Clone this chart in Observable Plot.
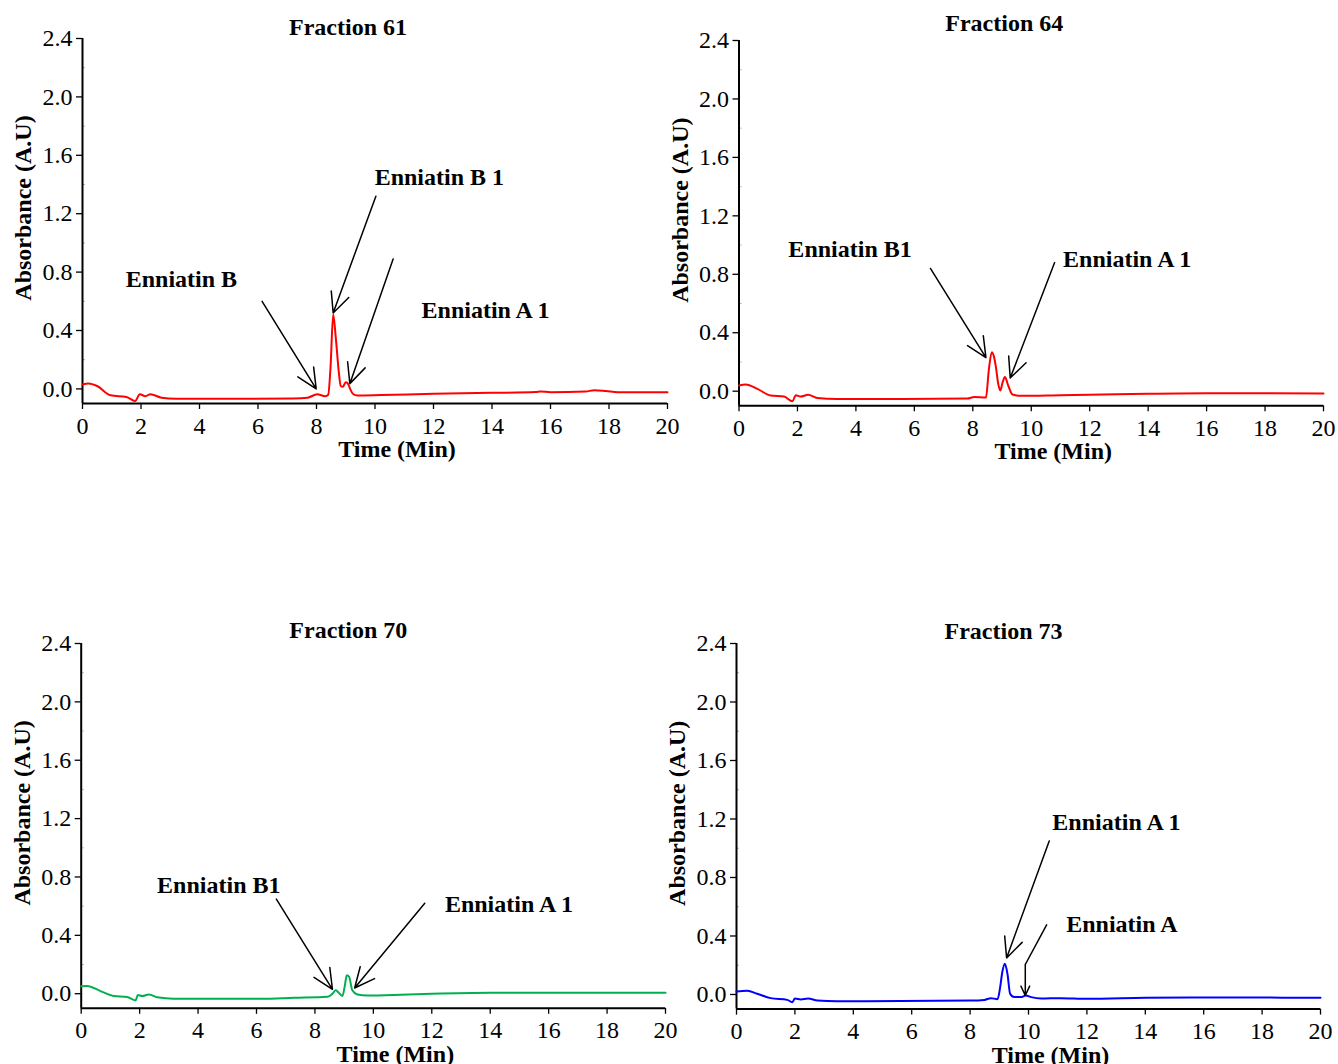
<!DOCTYPE html>
<html><head><meta charset="utf-8">
<script src="https://cdn.jsdelivr.net/npm/d3@7"></script>
<script src="https://cdn.jsdelivr.net/npm/@observablehq/plot@0.6"></script>
<style>
body{margin:0;background:#fff;}
#root{position:relative;width:1338px;height:1064px;overflow:hidden;background:#fff;}
.panel{position:absolute;}
</style></head><body><div id="root"></div>
<script>
// ---- data ----
const xTicks = [0, 2, 4, 6, 8, 10, 12, 14, 16, 18, 20];
const yTicks = [0, 0.4, 0.8, 1.2, 1.6, 2.0, 2.4];
const yMinorTicks = [0.2, 0.6, 1.0, 1.4, 1.8, 2.2];
const titles = ["Fraction 61", "Fraction 64", "Fraction 70", "Fraction 73"];
const colors = ["#ff0000", "#ff0000", "#00b050", "#0000ff"];

const time61 = [0, 0.2, 0.5, 0.96, 1.5, 1.8, 1.96, 2.15, 2.32, 2.7, 3.2, 5, 7.2, 7.7, 8.02, 8.3, 8.4, 8.48, 8.57, 8.66, 8.76, 8.83, 8.9, 9.0, 9.06, 9.15, 9.25, 9.4, 10.2, 12, 14, 15.5, 15.65, 16, 17.2, 17.5, 17.9, 18.3, 20];
const abs61  = [0.03, 0.037, 0.02, -0.044, -0.055, -0.083, -0.037, -0.05, -0.037, -0.06, -0.067, -0.068, -0.065, -0.06, -0.037, -0.05, -0.04, 0.15, 0.51, 0.35, 0.12, 0.02, 0.015, 0.045, 0.04, 0.0, -0.035, -0.045, -0.042, -0.034, -0.027, -0.022, -0.017, -0.023, -0.018, -0.009, -0.015, -0.023, -0.023];

const time64 = [0, 0.23, 0.63, 1.08, 1.54, 1.83, 1.94, 2.11, 2.36, 2.68, 3.37, 5, 7.82, 8.05, 8.45, 8.55, 8.65, 8.72, 8.79, 8.87, 8.94, 9.02, 9.1, 9.21, 9.36, 9.64, 11, 12, 14, 16, 20];
const abs64  = [0.039, 0.046, 0.016, -0.03, -0.037, -0.069, -0.028, -0.037, -0.025, -0.046, -0.053, -0.054, -0.05, -0.039, -0.044, 0.15, 0.267, 0.24, 0.166, 0.05, 0.005, 0.06, 0.097, 0.039, -0.023, -0.032, -0.028, -0.025, -0.018, -0.014, -0.015];

const time70 = [0, 0.2, 0.66, 1.12, 1.57, 1.86, 1.94, 2.09, 2.32, 2.6, 3.17, 6.15, 7.29, 8.43, 8.6, 8.71, 8.8, 8.94, 9.02, 9.09, 9.17, 9.28, 9.45, 9.8, 10.94, 12, 14, 20];
const abs70  = [0.051, 0.053, 0.018, -0.016, -0.023, -0.046, -0.009, -0.016, -0.005, -0.025, -0.035, -0.035, -0.028, -0.021, 0.0, 0.023, 0.01, -0.016, 0.05, 0.127, 0.116, 0.023, -0.005, -0.012, -0.007, 0.0, 0.007, 0.007];

const time73 = [0, 0.37, 0.71, 1.17, 1.74, 1.91, 2.0, 2.2, 2.45, 2.77, 3.45, 8.03, 8.49, 8.71, 8.94, 9.03, 9.1, 9.19, 9.28, 9.37, 9.51, 9.74, 9.91, 10.09, 10.43, 11.1, 12, 14, 16, 20];
const abs73  = [0.021, 0.025, 0.005, -0.025, -0.037, -0.053, -0.028, -0.034, -0.028, -0.041, -0.046, -0.041, -0.037, -0.025, -0.032, 0.05, 0.15, 0.21, 0.14, 0.005, -0.018, -0.018, -0.007, -0.018, -0.028, -0.025, -0.03, -0.023, -0.02, -0.023];

// annotations (data units)
const labels61 = [{text: "Enniatin B", x: 3.38, y: 0.75}, {text: "Enniatin B 1", x: 12.2, y: 1.45}, {text: "Enniatin A 1", x: 13.78, y: 0.54}];
const arrows61 = [{x1: 6.14, y1: 0.6, x2: 7.99, y2: 0.0}, {x1: 10.03, y1: 1.32, x2: 8.57, y2: 0.52}, {x1: 10.62, y1: 0.89, x2: 9.14, y2: 0.036}];
const labels64 = [{text: "Enniatin B1", x: 3.8, y: 0.97}, {text: "Enniatin A 1", x: 13.28, y: 0.9}];
const arrows64 = [{x1: 6.55, y1: 0.84, x2: 8.45, y2: 0.23}, {x1: 10.8, y1: 0.88, x2: 9.28, y2: 0.09}];
const labels70 = [{text: "Enniatin B1", x: 4.71, y: 0.74}, {text: "Enniatin A 1", x: 14.64, y: 0.613}];
const arrows70 = [{x1: 6.68, y1: 0.648, x2: 8.6, y2: 0.03}, {x1: 11.76, y1: 0.62, x2: 9.36, y2: 0.039}];
const labels73 = [{text: "Enniatin A 1", x: 13.01, y: 1.177}, {text: "Enniatin A", x: 13.2, y: 0.48}];
const arrows73 = [{x1: 10.71, y1: 1.05, x2: 9.25, y2: 0.25}, {x1: 9.89, y1: 0.205, x2: 9.89, y2: -0.007}];
const links73 = [{x1: 10.63, y1: 0.48, x2: 9.89, y2: 0.205}];

// ---- layout ----
const panels = [
  {title: titles[0], t: time61, a: abs61, color: colors[0], labels: labels61, arrows: arrows61, links: [], left: 0,   top: 0,   W: 690, H: 470, mL: 82,   mR: 23, mT: 38, mB: 67,   tdx: -27, tdy: -11, xdx: 22, xdy: 46},
  {title: titles[1], t: time64, a: abs64, color: colors[1], labels: labels64, arrows: arrows64, links: [], left: 657, top: 0,   W: 681, H: 470, mL: 81.5, mR: 15, mT: 40, mB: 64.7, tdx: -27, tdy: -17, xdx: 22, xdy: 46},
  {title: titles[2], t: time70, a: abs70, color: colors[2], labels: labels70, arrows: arrows70, links: [], left: 0,   top: 600, W: 690, H: 464, mL: 80.7, mR: 25, mT: 43, mB: 56.2, tdx: -25, tdy: -13, xdx: 22, xdy: 46},
  {title: titles[3], t: time73, a: abs73, color: colors[3], labels: labels73, arrows: arrows73, links: links73, left: 657, top: 600, W: 681, H: 464, mL: 79, mR: 18, mT: 43, mB: 55.4, tdx: -25, tdy: -12, xdx: 22, xdy: 46}
];

const root = document.getElementById("root");
const FONT = "'Liberation Serif', 'Times New Roman', serif";
const FS = 24;

for (const p of panels) {
  const data = p.t.map((t, i) => ({t, a: p.a[i]}));
  const chart = Plot.plot({
    width: p.W, height: p.H,
    marginLeft: p.mL, marginRight: p.mR, marginTop: p.mT, marginBottom: p.mB,
    style: {background: "transparent", overflow: "visible", fontFamily: FONT, fontSize: FS + "px", color: "black"},
    x: {domain: [0, 20]},
    y: {domain: [-0.1, 2.4]},
    marks: [
      Plot.axisY(yMinorTicks, {tickSize: -3, tickFormat: () => "", stroke: "#b0b0b0", label: null}),
      Plot.axisY(yTicks, {tickSize: 6, tickPadding: 4, tickFormat: d => d.toFixed(1), label: null, strokeWidth: 1.3, fontSize: FS}),
      Plot.axisX(xTicks, {tickSize: 6, tickPadding: 7, tickFormat: d => String(d), label: null, strokeWidth: 1.3, fontSize: FS}),
      Plot.ruleX([0], {stroke: "black", strokeWidth: 2}),
      Plot.ruleY([-0.1], {stroke: "black", strokeWidth: 2}),
      Plot.line(data, {x: "t", y: "a", stroke: p.color, strokeWidth: 2, curve: "monotone-x"}),
      Plot.link(p.links, {x1: "x1", y1: "y1", x2: "x2", y2: "y2", stroke: "black", strokeWidth: 1.5}),
      Plot.arrow(p.arrows, {x1: "x1", y1: "y1", x2: "x2", y2: "y2", stroke: "black", strokeWidth: 1.5, headLength: 22, headAngle: 50}),
      Plot.text(p.labels, {x: "x", y: "y", text: "text", fontWeight: "bold", fontSize: FS, fill: "black"}),
      Plot.text([p.title], {frameAnchor: "top", lineAnchor: "middle", dy: p.tdy, dx: p.tdx, fontWeight: "bold", fontSize: FS, fill: "black"}),
      Plot.text(["Time (Min)"], {frameAnchor: "bottom", lineAnchor: "middle", dy: p.xdy, dx: p.xdx, fontWeight: "bold", fontSize: FS, fill: "black"}),
      Plot.text(["Absorbance (A.U)"], {frameAnchor: "left", textAnchor: "middle", lineAnchor: "middle", rotate: -90, dx: -59, dy: -13, fontWeight: "bold", fontSize: FS, fill: "black"})
    ]
  });
  const div = document.createElement("div");
  div.className = "panel";
  div.style.left = p.left + "px";
  div.style.top = p.top + "px";
  div.style.width = p.W + "px";
  div.appendChild(chart);
  root.appendChild(div);
}
</script>
</body></html>
